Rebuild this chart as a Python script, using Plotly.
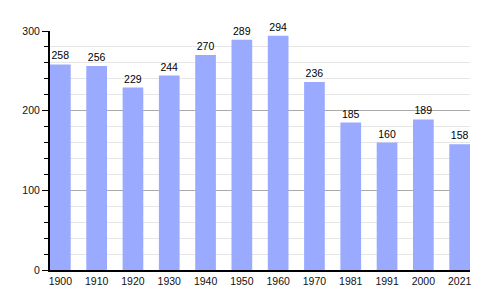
import plotly.graph_objects as go

years = ["1900", "1910", "1920", "1930", "1940", "1950", "1960", "1970", "1981", "1991", "2000", "2021"]
population = [258, 256, 229, 244, 270, 289, 294, 236, 185, 160, 189, 158]

xs = list(range(len(years)))
bw = 0.57

fig = go.Figure(go.Bar(
    x=xs, y=population, width=bw,
    marker=dict(color="#99aaff", line=dict(width=0)),
    text=[str(v) for v in population], textposition="outside",
    textfont=dict(family="Liberation Sans, Arial, sans-serif", size=10.5, color="black"),
    cliponaxis=False,
))

fig.update_layout(
    width=500, height=300,
    margin=dict(l=50, r=30, t=31, b=30),
    paper_bgcolor="white", plot_bgcolor="white",
    showlegend=False,
    font=dict(family="Liberation Sans, Arial, sans-serif", size=10.5, color="#111111"),
    uniformtext=dict(minsize=10, mode="show"),
)
fig.update_xaxes(
    range=[-bw / 2, len(years) - 1 + bw / 2],
    tickmode="array", tickvals=xs, ticktext=years,
    showgrid=False, showline=True, linecolor="black", linewidth=2,
    ticks="", zeroline=False,
)
fig.update_yaxes(
    range=[0, 300], tickvals=[0, 100, 200, 300],
    showgrid=True, gridcolor="#aaaaaa", gridwidth=1,
    showline=True, linecolor="black", linewidth=2,
    ticks="outside", ticklen=6, tickcolor="black", tickwidth=1,
    zeroline=False,
    minor=dict(dtick=20, showgrid=True, gridcolor="#e6e6e6", ticks="outside", ticklen=4, tickcolor="black"),
)

fig.write_html("out.html")
